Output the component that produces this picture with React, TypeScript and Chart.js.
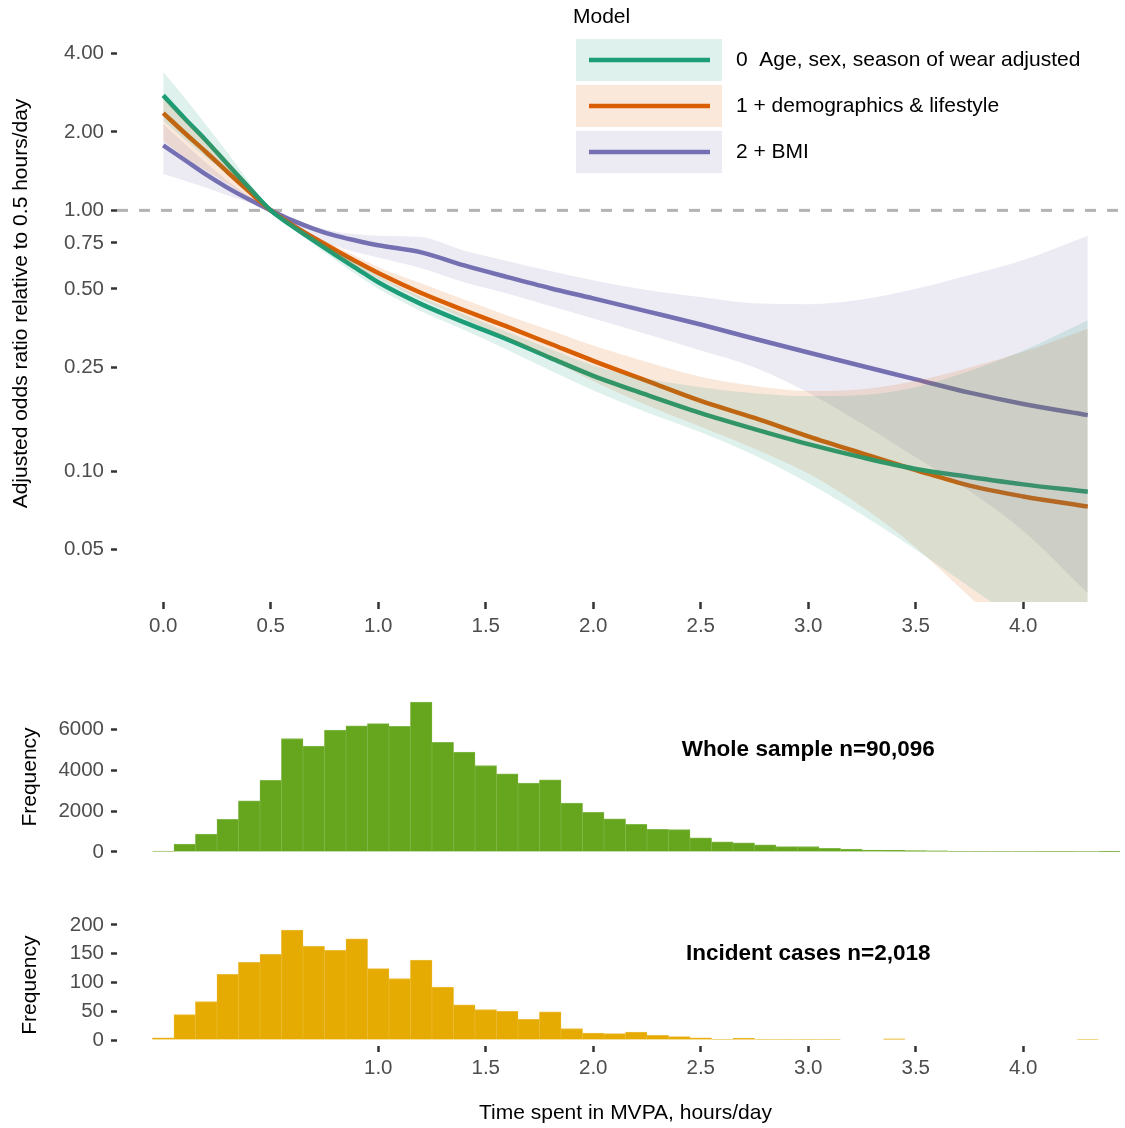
import React, { useEffect, useRef } from 'react';
import { Chart, registerables } from 'chart.js';

Chart.register(...registerables);

const FONT = '"Liberation Sans", Arial, Helvetica, sans-serif';
Chart.defaults.font.family = FONT;

// ---------------- data: top panel (odds ratios) ----------------
const X_GRID = [0, 0.1, 0.2, 0.3, 0.4, 0.5, 0.6, 0.7, 0.8, 0.9, 1.0, 1.2, 1.4, 1.6, 1.8, 2.0, 2.25, 2.5, 2.75, 3.0, 3.25, 3.5, 3.75, 4.0, 4.3];

const M0_OR = [2.76, 2.25, 1.85, 1.5, 1.22, 1.0, 0.87, 0.765, 0.675, 0.598, 0.53, 0.437, 0.372, 0.32, 0.272, 0.232, 0.196, 0.167, 0.145, 0.127, 0.113, 0.102, 0.095, 0.089, 0.0834];
const M0_HI = [3.39, 2.7, 2.12, 1.66, 1.28, 1.0, 0.885, 0.79, 0.705, 0.63, 0.562, 0.465, 0.398, 0.342, 0.294, 0.254, 0.226, 0.21, 0.199, 0.194, 0.196, 0.21, 0.242, 0.29, 0.379];
const M0_LO = [2.2, 1.87, 1.6, 1.37, 1.16, 1.0, 0.855, 0.74, 0.645, 0.566, 0.5, 0.41, 0.348, 0.292, 0.243, 0.204, 0.168, 0.141, 0.115, 0.09, 0.068, 0.05, 0.036, 0.026, 0.018];

const M1_OR = [2.36, 1.98, 1.67, 1.4, 1.18, 1.0, 0.88, 0.785, 0.705, 0.635, 0.575, 0.482, 0.414, 0.358, 0.308, 0.265, 0.222, 0.186, 0.16, 0.136, 0.117, 0.101, 0.088, 0.08, 0.0731];
const M1_HI = [2.7, 2.25, 1.88, 1.55, 1.25, 1.0, 0.895, 0.805, 0.73, 0.665, 0.607, 0.525, 0.455, 0.395, 0.347, 0.303, 0.262, 0.23, 0.212, 0.203, 0.206, 0.222, 0.25, 0.287, 0.352];
const M1_LO = [1.85, 1.6, 1.42, 1.26, 1.12, 1.0, 0.86, 0.76, 0.675, 0.605, 0.548, 0.455, 0.385, 0.322, 0.268, 0.221, 0.179, 0.148, 0.122, 0.098, 0.073, 0.051, 0.033, 0.021, 0.013];

const M2_OR = [1.775, 1.56, 1.37, 1.22, 1.1, 1.0, 0.915, 0.85, 0.8, 0.765, 0.735, 0.69, 0.615, 0.555, 0.503, 0.46, 0.41, 0.365, 0.322, 0.285, 0.253, 0.225, 0.2, 0.181, 0.164];
const M2_HI = [2.15, 1.8, 1.52, 1.3, 1.13, 1.0, 0.93, 0.87, 0.83, 0.81, 0.8, 0.79, 0.7, 0.64, 0.585, 0.54, 0.495, 0.465, 0.44, 0.437, 0.455, 0.5, 0.565, 0.645, 0.8];
const M2_LO = [1.38, 1.3, 1.22, 1.14, 1.07, 1.0, 0.89, 0.79, 0.73, 0.69, 0.66, 0.6, 0.53, 0.48, 0.43, 0.385, 0.335, 0.29, 0.25, 0.2, 0.152, 0.113, 0.084, 0.059, 0.034];

const REF_OR = 1.0;

const MODEL_LABELS = ['0  Age, sex, season of wear adjusted', '1 + demographics & lifestyle', '2 + BMI'];
const LEGEND_TITLE = 'Model';

const Y_TICKS_OR = [0.05, 0.1, 0.25, 0.5, 0.75, 1, 2, 4];
const X_TICKS_TOP = [0, 0.5, 1.0, 1.5, 2.0, 2.5, 3.0, 3.5, 4.0];
const X_TICKS_BOTTOM = [1.0, 1.5, 2.0, 2.5, 3.0, 3.5, 4.0];

// ---------------- data: histograms ----------------
const HIST_BINS = [0.0, 0.1, 0.2, 0.3, 0.4, 0.5, 0.6, 0.7, 0.8, 0.9, 1.0, 1.1, 1.2, 1.3, 1.4, 1.5, 1.6, 1.7, 1.8, 1.9, 2.0, 2.1, 2.2, 2.3, 2.4, 2.5, 2.6, 2.7, 2.8, 2.9, 3.0, 3.1, 3.2, 3.3, 3.4, 3.5, 3.6, 3.7, 3.8, 3.9, 4.0, 4.1, 4.2, 4.3, 4.4];
const HIST_ALL = [50, 390, 880, 1600, 2500, 3500, 5540, 5170, 5950, 6160, 6260, 6130, 7320, 5350, 4880, 4220, 3820, 3360, 3520, 2390, 1930, 1620, 1350, 1110, 1090, 690, 500, 450, 355, 260, 270, 180, 145, 95, 80, 65, 60, 35, 30, 30, 15, 12, 10, 8, 6];
const HIST_CASES = [4, 44, 67, 114, 135, 149, 191, 163, 156, 176, 124, 107, 139, 92, 61, 53, 50, 36, 49, 20, 12, 11, 14, 8, 6, 4, 1, 3, 1, 1, 1, 1, 0, 0, 2, 0, 0, 0, 0, 0, 0, 0, 0, 1, 0];

const Y_TICKS_ALL = [0, 2000, 4000, 6000];
const Y_TICKS_CASES = [0, 50, 100, 150, 200];

const ANNOT_ALL = { text: 'Whole sample n=90,096', x: 3.0, y: 5000 };
const ANNOT_CASES = { text: 'Incident cases n=2,018', x: 3.0, y: 150 };

const Y_TITLE_TOP = 'Adjusted odds ratio relative to 0.5 hours/day';
const Y_TITLE_HIST = 'Frequency';
const X_TITLE = 'Time spent in MVPA, hours/day';

// ---------------- styling / layout ----------------
const LINE_COLORS = ['#1b9e77', '#d95f02', '#7570b3'];
const BAND_COLORS = ['rgba(27,158,119,0.14)', 'rgba(217,95,2,0.14)', 'rgba(117,112,179,0.14)'];
const X_MIN = -0.215;
const X_MAX = 4.515;
const CANVAS_W = 1134;
const AXIS_W = 117;
const TICK_COLOR = '#4d4d4d';

const fixY = (w: number) => (s: any) => {
  s.width = w;
  s.paddingTop = 0; s.paddingBottom = 0; s.paddingLeft = 0; s.paddingRight = 0;
};
const fixX = (h: number) => (s: any) => {
  s.height = h;
  s.paddingTop = 0; s.paddingBottom = 0; s.paddingLeft = 0; s.paddingRight = 0;
};
const setTicks = (vals: number[]) => (s: any) => {
  s.ticks = vals.map((v) => ({ value: v }));
};

const pts = (xs: number[], ys: number[]) => xs.map((x, i) => ({ x, y: ys[i] }));

const annotPlugin = {
  id: 'annot',
  afterDatasetsDraw(chart: any, _args: any, opts: any) {
    if (!opts || !opts.text) return;
    const { ctx, scales } = chart;
    ctx.save();
    ctx.font = `bold 22.5px ${FONT}`;
    ctx.fillStyle = '#000';
    ctx.textAlign = 'center';
    ctx.textBaseline = 'middle';
    ctx.fillText(opts.text, scales.x.getPixelForValue(opts.x), scales.y.getPixelForValue(opts.y));
    ctx.restore();
  },
};

const legendPlugin = {
  id: 'modelLegend',
  afterDraw(chart: any) {
    const ctx = chart.ctx;
    ctx.save();
    ctx.font = `21px ${FONT}`;
    ctx.textAlign = 'left';
    ctx.textBaseline = 'middle';
    ctx.fillStyle = '#000';
    ctx.fillText(LEGEND_TITLE, 573, 17);
    MODEL_LABELS.forEach((lab, k) => {
      const top = 39 + k * 46;
      ctx.fillStyle = BAND_COLORS[k];
      ctx.fillRect(576, top, 146, 42);
      ctx.strokeStyle = LINE_COLORS[k];
      ctx.lineWidth = 4.5;
      ctx.lineCap = 'butt';
      ctx.beginPath();
      ctx.moveTo(589, top + 21);
      ctx.lineTo(710, top + 21);
      ctx.stroke();
      ctx.fillStyle = '#000';
      ctx.fillText(lab, 736, top + 21);
    });
    ctx.restore();
  },
};

function topConfig(): any {
  const models = [
    { or: M0_OR, hi: M0_HI, lo: M0_LO },
    { or: M1_OR, hi: M1_HI, lo: M1_LO },
    { or: M2_OR, hi: M2_HI, lo: M2_LO },
  ];
  const datasets: any[] = [];
  models.forEach((m, k) => {
    const loIdx = datasets.length + 1;
    datasets.push({
      type: 'line', data: pts(X_GRID, m.hi), fill: { target: loIdx },
      backgroundColor: BAND_COLORS[k], borderColor: 'rgba(0,0,0,0)', borderWidth: 0,
      pointRadius: 0, cubicInterpolationMode: 'monotone', order: 1,
    });
    datasets.push({
      type: 'line', data: pts(X_GRID, m.lo), fill: false,
      borderColor: 'rgba(0,0,0,0)', borderWidth: 0,
      pointRadius: 0, cubicInterpolationMode: 'monotone', order: 1,
    });
  });
  models.forEach((m, k) => {
    datasets.push({
      type: 'line', data: pts(X_GRID, m.or), fill: false,
      borderColor: LINE_COLORS[k], borderWidth: 4.5, pointRadius: 0,
      cubicInterpolationMode: 'monotone', order: 5,
    });
  });
  datasets.push({
    type: 'line', data: [{ x: X_MIN, y: REF_OR }, { x: X_MAX, y: REF_OR }], fill: false,
    borderColor: '#b3b3b3', borderWidth: 3, borderDash: [11, 11], pointRadius: 0, order: 10,
  });

  return {
    type: 'line',
    data: { datasets },
    plugins: [legendPlugin],
    options: {
      animation: false, responsive: false, devicePixelRatio: 1,
      layout: { padding: { top: 5, left: 0, right: 0, bottom: 0 } },
      plugins: { legend: { display: false }, tooltip: { enabled: false } },
      scales: {
        x: {
          type: 'linear', min: X_MIN, max: X_MAX,
          afterBuildTicks: setTicks(X_TICKS_TOP), afterFit: fixX(48),
          ticks: { callback: (v: any) => Number(v).toFixed(1), font: { size: 20.5 }, color: TICK_COLOR, padding: 5, autoSkip: false, maxRotation: 0 },
          grid: { offset: false, drawOnChartArea: false, drawTicks: true, tickLength: 7, tickWidth: 2.5, tickColor: '#333333' },
          border: { display: false },
        },
        y: {
          type: 'logarithmic', min: 0.0315, max: 6.13,
          afterBuildTicks: setTicks(Y_TICKS_OR), afterFit: fixY(AXIS_W),
          ticks: { callback: (v: any) => Number(v).toFixed(2), font: { size: 20.5 }, color: TICK_COLOR, padding: 7, autoSkip: false },
          grid: { drawOnChartArea: false, drawTicks: true, tickLength: 6, tickWidth: 2.5, tickColor: '#333333' },
          border: { display: false },
          title: { display: true, text: Y_TITLE_TOP, font: { size: 21 }, color: '#000', padding: { top: 8.4, bottom: 0 } },
        },
      },
    },
  };
}

function histConfig(p: {
  values: number[]; color: string; border: string; yMin: number; yMax: number; yTicks: number[];
  showX: boolean; annot: any; padTop: number; padBottom: number;
}): any {
  return {
    type: 'bar',
    data: {
      datasets: [{
        data: pts(HIST_BINS, p.values),
        backgroundColor: p.color, borderColor: p.border,
        borderWidth: { top: 1, left: 0.5, right: 0.5, bottom: 0 },
        borderSkipped: false,
        barPercentage: 1, categoryPercentage: 1,
      }],
    },
    plugins: [annotPlugin],
    options: {
      animation: false, responsive: false, devicePixelRatio: 1,
      layout: { padding: { top: p.padTop, bottom: p.padBottom, left: 0, right: 0 } },
      plugins: { legend: { display: false }, tooltip: { enabled: false }, annot: p.annot },
      scales: {
        x: {
          type: 'linear', min: X_MIN, max: X_MAX, offset: false, display: p.showX,
          afterBuildTicks: setTicks(X_TICKS_BOTTOM), afterFit: fixX(p.showX ? 82.5 : 0),
          ticks: { callback: (v: any) => Number(v).toFixed(1), font: { size: 20.5 }, color: TICK_COLOR, padding: 4, autoSkip: false, maxRotation: 0 },
          grid: { offset: false, drawOnChartArea: false, drawTicks: true, tickLength: 6.5, tickWidth: 2.5, tickColor: '#333333' },
          border: { display: false },
          title: { display: true, text: X_TITLE, font: { size: 21 }, color: '#000', padding: { top: 0, bottom: 2.4 } },
        },
        y: {
          type: 'linear', min: p.yMin, max: p.yMax,
          afterBuildTicks: setTicks(p.yTicks), afterFit: fixY(AXIS_W),
          ticks: { callback: (v: any) => String(v), font: { size: 20.5 }, color: TICK_COLOR, padding: 7, autoSkip: false },
          grid: { drawOnChartArea: false, drawTicks: true, tickLength: 6, tickWidth: 2.5, tickColor: '#333333' },
          border: { display: false },
          title: { display: true, text: Y_TITLE_HIST, font: { size: 21 }, color: '#000', padding: { top: 17.4, bottom: 0 } },
        },
      },
    },
  };
}

export default function App() {
  const topRef = useRef<HTMLCanvasElement>(null);
  const midRef = useRef<HTMLCanvasElement>(null);
  const botRef = useRef<HTMLCanvasElement>(null);

  useEffect(() => {
    const charts: Chart[] = [];
    if (topRef.current) charts.push(new Chart(topRef.current, topConfig()));
    if (midRef.current) charts.push(new Chart(midRef.current, histConfig({
      values: HIST_ALL, color: '#66a61e', border: '#83b84b', yMin: -366, yMax: 7685, yTicks: Y_TICKS_ALL,
      showX: false, annot: ANNOT_ALL, padTop: 14.5, padBottom: 10.5,
    })));
    if (botRef.current) charts.push(new Chart(botRef.current, histConfig({
      values: HIST_CASES, color: '#e6ab02', border: '#ecbd3c', yMin: -9.55, yMax: 200.5, yTicks: Y_TICKS_CASES,
      showX: true, annot: ANNOT_CASES, padTop: 24.7, padBottom: 0,
    })));
    return () => charts.forEach((c) => c.destroy());
  }, []);

  const cs = (top: number, h: number): React.CSSProperties => ({
    position: 'absolute', left: 0, top, width: CANVAS_W, height: h, display: 'block',
  });

  return (
    <div style={{ position: 'absolute', left: 0, top: 0, width: 1125, height: 1128, overflow: 'hidden', background: '#fff' }}>
      <canvas ref={topRef} width={CANVAS_W} height={650} style={cs(0, 650)} />
      <canvas ref={midRef} width={CANVAS_W} height={190} style={cs(680, 190)} />
      <canvas ref={botRef} width={CANVAS_W} height={228} style={cs(900, 228)} />
    </div>
  );
}
